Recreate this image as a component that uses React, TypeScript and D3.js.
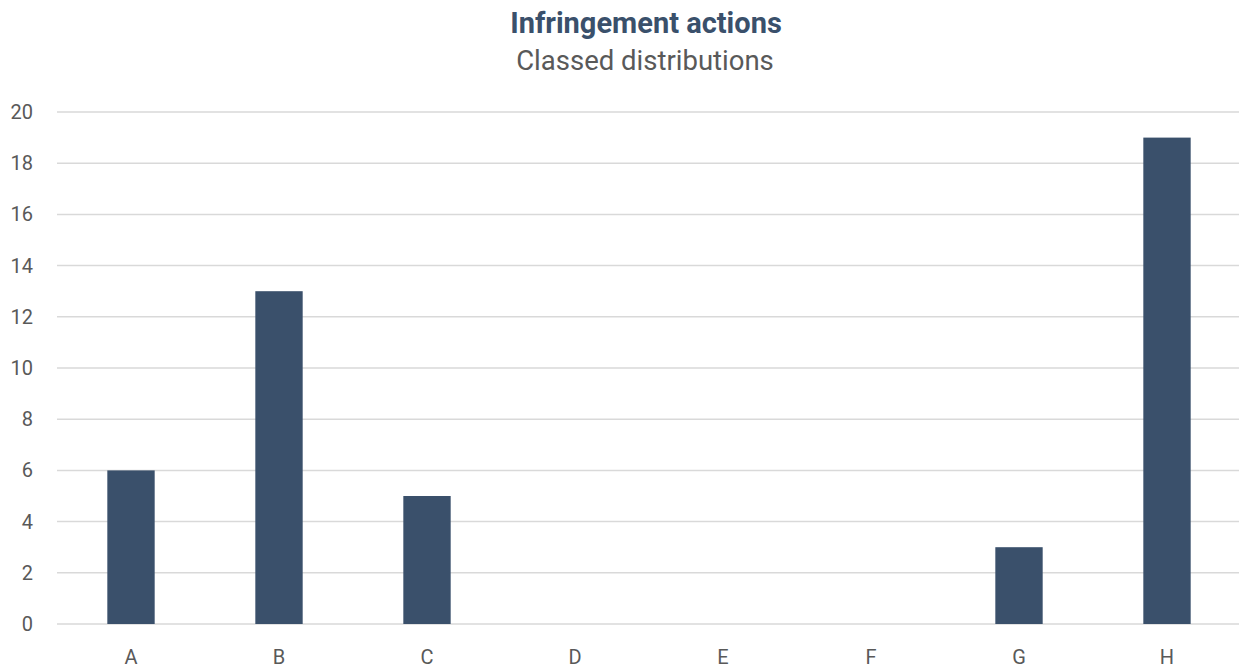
import React from "react";
import * as d3 from "d3";

const categories = ["A", "B", "C", "D", "E", "F", "G", "H"];
const counts = [6, 13, 5, 0, 0, 0, 3, 19];
const yTicks = [0, 2, 4, 6, 8, 10, 12, 14, 16, 18, 20];

const W = 1239;
const H = 668;
const margin = { top: 112, right: -2, bottom: 44, left: 57 };
const barColor = "#3a506b";
const font = "Roboto, 'Noto Sans', sans-serif";

export default function App() {
  const x = d3
    .scaleBand<string>()
    .domain(categories)
    .range([margin.left, W - margin.right])
    .paddingInner(0.68)
    .paddingOuter(0.34);
  const y = d3.scaleLinear().domain([0, 20]).range([H - margin.bottom, margin.top]);

  return (
    <svg width={W} height={H} style={{ position: "absolute", left: 0, top: 0, fontFamily: font }}>
      <rect width={W} height={H} fill="#fff" />
      <text x={646} y={33} textAnchor="middle" fontSize={29} fontWeight="bold" fill={barColor}>
        Infringement actions
      </text>
      <text x={645} y={70} textAnchor="middle" fontSize={27.5} fill="#595959">
        Classed distributions
      </text>
      {yTicks.map((t) => (
        <g key={t}>
          <line x1={margin.left} x2={W} y1={y(t)} y2={y(t)} stroke="#d9d9d9" strokeWidth={1.5} />
          <text x={33} y={y(t)} dy="0.35em" textAnchor="end" fontSize={20} fill="#595959">
            {t}
          </text>
        </g>
      ))}
      {categories.map((c, i) => (
        <g key={c}>
          {counts[i] > 0 && (
            <rect
              x={x(c)}
              y={y(counts[i])}
              width={x.bandwidth()}
              height={y(0) - y(counts[i])}
              fill={barColor}
            />
          )}
          <text x={(x(c) ?? 0) + x.bandwidth() / 2} y={664} textAnchor="middle" fontSize={20} fill="#595959">
            {c}
          </text>
        </g>
      ))}
    </svg>
  );
}
